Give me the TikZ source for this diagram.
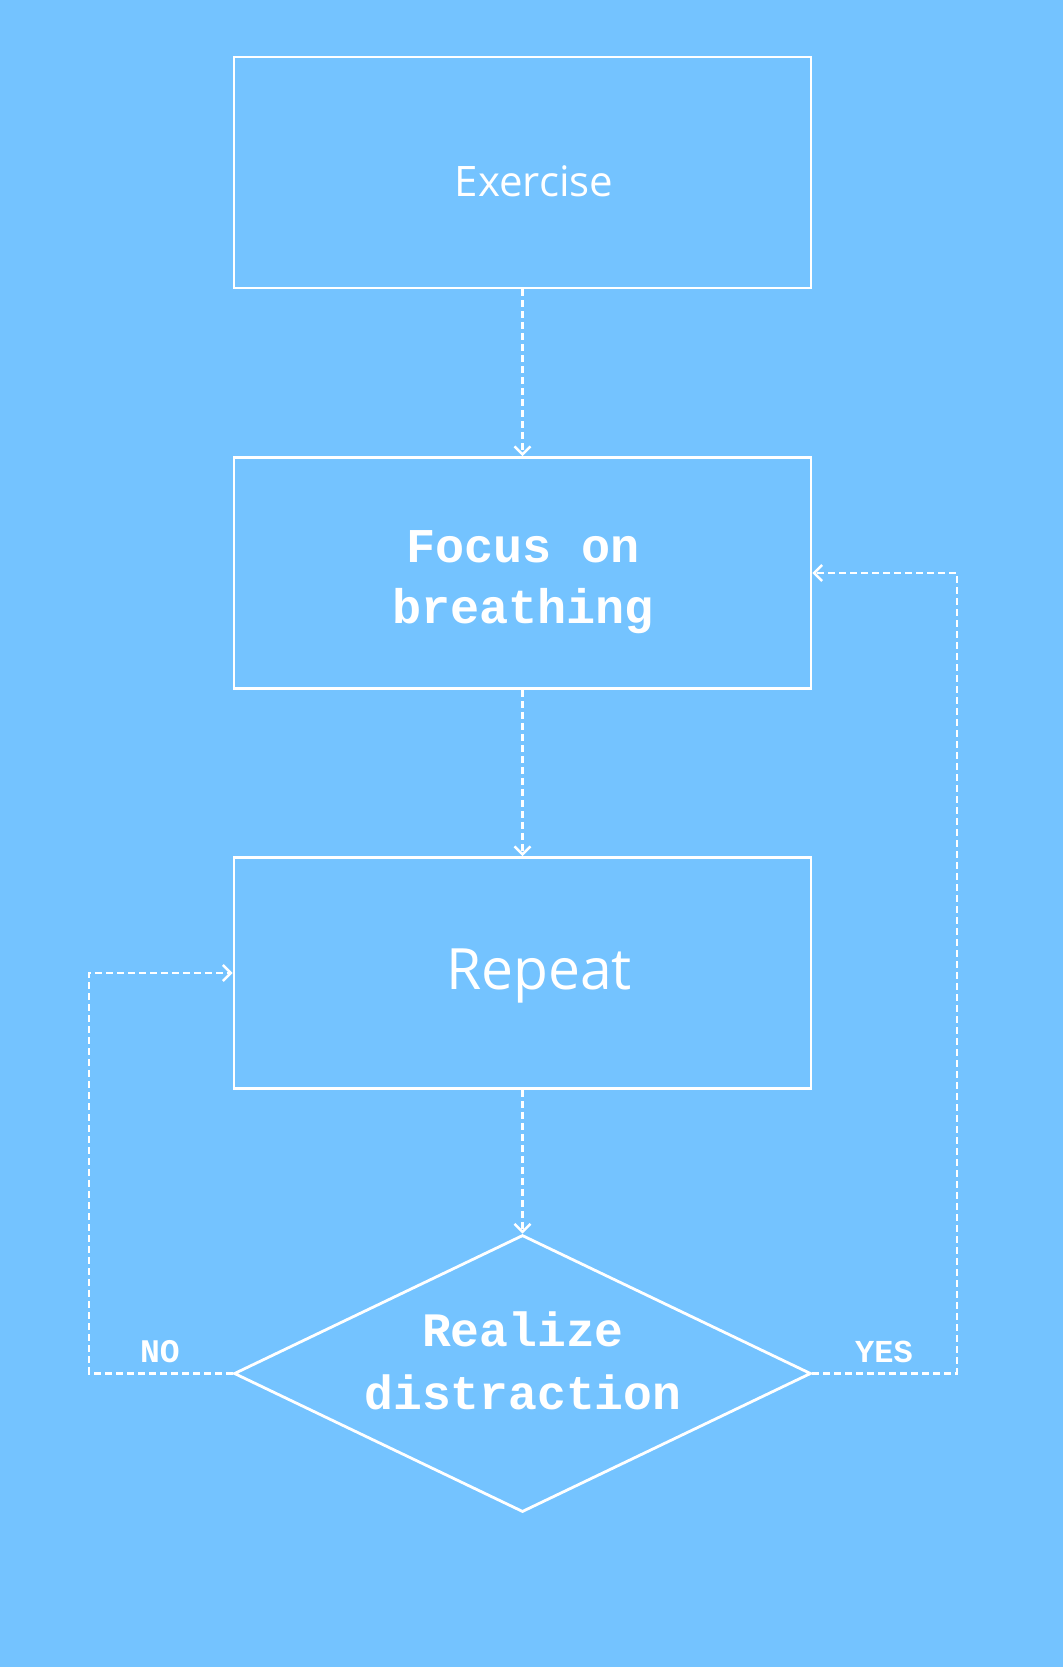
\documentclass[tikz,border=0pt]{standalone}
\usepackage{fontspec}
\usetikzlibrary{arrows.meta,shapes.geometric}
\newfontfamily\carl{Open Sans}
\newfontfamily\cour{Liberation Mono}
\definecolor{bgblue}{RGB}{116,195,255}
\begin{document}
\begin{tikzpicture}[x=1pt,y=-1pt,
  boxst/.style={draw=white,line width=2.8pt,minimum width=577pt,minimum height=231pt,inner sep=0pt},
  conn/.style={draw=white,line width=2.4pt,dash pattern=on 7pt off 4pt,-{Straight Barb[length=8pt,width=16pt,line width=2.4pt]}},
  lbl/.style={text=white,inner sep=0pt}]
\fill[bgblue] (0,0) rectangle (1063,1667);
\useasboundingbox (0,0) rectangle (1063,1667);
\node[boxst] (b1) at (522.5,172.5) {};
\node[boxst] (b2) at (522.5,573) {};
\node[boxst] (b3) at (522.5,973) {};
\node[diamond,draw=white,line width=2.8pt,minimum width=577pt,minimum height=277pt,inner sep=0pt,aspect=2.08] (d) at (522.5,1373.5) {};
\node[lbl,font=\carl\fontsize{42}{50}\selectfont] (t1) at (534,181) {Exercise};
\node[lbl,font=\cour\bfseries\fontsize{48.5}{61}\selectfont,align=center] (t2) at (523,582) {Focus on\\breathing};
\node[lbl,font=\carl\fontsize{57}{68}\selectfont] (t3) at (539,976) {Repeat};
\node[lbl,font=\cour\bfseries\fontsize{48}{63}\selectfont,align=center] (t4) at (523,1361) {Realize\\distraction};
\node[lbl,font=\cour\bfseries\fontsize{33}{36}\selectfont,anchor=base] (no) at (160,1362) {NO};
\node[lbl,font=\cour\bfseries\fontsize{32}{36}\selectfont,anchor=base] (yes) at (884,1362) {YES};
\coordinate (rb) at (957,1373.5);
\coordinate (rt) at (957,573);
\coordinate (lb) at (89,1373.5);
\coordinate (lt) at (89,973);
\draw[conn] (b1.south) -- (b2.north);
\draw[conn] (b2.south) -- (b3.north);
\draw[conn] (b3.south) -- (d.north);
\draw[conn] (d.east) -- (rb) -- (rt) -- (b2.east);
\draw[conn] (d.west) -- (lb) -- (lt) -- (b3.west);
\end{tikzpicture}
\end{document}
